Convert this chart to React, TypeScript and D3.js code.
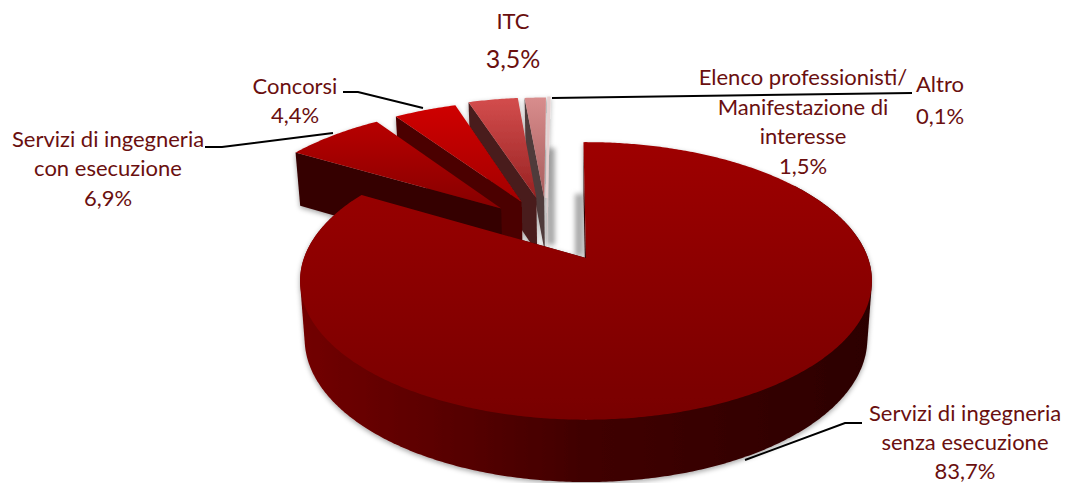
import React from "react";
import * as d3 from "d3";

const categories = [
  ["Servizi di ingegneria", "senza esecuzione"],
  ["Servizi di ingegneria", "con esecuzione"],
  ["Concorsi"],
  ["ITC"],
  ["Elenco professionisti/", "Manifestazione di", "interesse"],
  ["Altro"],
];
const percentLabels = ["83,7%", "6,9%", "4,4%", "3,5%", "1,5%", "0,1%"];
const values = [83.7, 6.9, 4.4, 3.5, 1.5, 0.1];
// Style / layout of each slice, same order as the values
const explodeU = [0, -0.32, -0.245, -0.19, -0.16, -0.15];
const explodeV = [0, 0.39, 0.445, 0.48, 0.48, 0.48];
const topColors = [
  ["#9e0000", "#780000"],
  ["#b80000", "#860000"],
  ["#cf0000", "#a30000"],
  ["#d34d4d", "#982222"],
  ["#d88d8d", "#a85c5c"],
  ["#e6d0d0", "#e6d0d0"],
];
const wallColors = ["#3a0000", "#350000", "#4c0000", "#4a1a1a", "#4f3a3a", "#d8c8c8"];

const CX = 586, CY = 258, R = 282, RY = 135, K = 0.165, D = 57;
const ROT = (-0.6 * Math.PI) / 180;

type P = [number, number];
function project(u: number, v: number, z: number): P {
  const w = 1 + K * v;
  const s = 1 - 0.016 * z;
  return [CX + (R * u * s) / w, CY - (RY * v) / w + (D * z) / Math.sqrt(w)];
}

const angle = d3.scaleLinear().domain([0, d3.sum(values)]).range([ROT, ROT + 2 * Math.PI]);
const cum = d3.cumsum(values);
const slices = values.map((v, i) => ({
  i,
  a0: angle(i === 0 ? 0 : cum[i - 1]),
  a1: angle(cum[i]),
  ou: explodeU[i],
  ov: explodeV[i],
}));

const pathOf = (pts: P[]) => d3.line()(pts) + "Z";

function arcPts(s: (typeof slices)[number], from: number, to: number, z: number): P[] {
  const n = Math.max(2, Math.ceil(Math.abs(to - from) / 0.01));
  return d3.range(n + 1).map((k) => {
    const a = from + ((to - from) * k) / n;
    return project(s.ou + Math.sin(a), s.ov + Math.cos(a), z);
  });
}

function Slice({ s }: { s: (typeof slices)[number] }) {
  const apexTop = project(s.ou, s.ov, 0);
  const apexBot = project(s.ou, s.ov, 1);
  const top: P[] = [apexTop, ...arcPts(s, s.a0, s.a1, 0)];
  const main = s.i === 0;
  const edge = (a: number, z: number) => project(s.ou + Math.sin(a), s.ov + Math.cos(a), z);
  const startFace: P[] = [apexTop, edge(s.a0, 0), edge(s.a0, 1), apexBot];
  const endFace: P[] = [apexTop, edge(s.a1, 0), edge(s.a1, 1), apexBot];
  const hullOf = (from: number, to: number) =>
    (d3.polygonHull([...arcPts(s, from, to, 0), ...arcPts(s, from, to, 1)]) ?? []) as P[];
  return (
    <g>
      {main ? (
        <>
          <path d={pathOf(endFace)} fill="#3a0000" />
          <path d={pathOf(startFace)} fill="#300000" />
          <path d={pathOf(hullOf(Math.PI * 0.3, Math.PI))} fill="url(#mainWall)" />
          <path d={pathOf(hullOf(Math.PI, Math.PI * 1.65))} fill="url(#mainWall)" />
        </>
      ) : (
        <path d={pathOf(startFace)} fill={wallColors[s.i]} />
      )}
      <path
        d={pathOf(top)}
        fill={`url(#top${s.i})`}
        stroke={s.i === 5 ? topColors[5][0] : "none"}
        strokeWidth={s.i === 5 ? 2 : 0}
      />
    </g>
  );
}

const labelFill = "#6a0f0f";
const font = "Lato, sans-serif";

function Label({ lines, x, ys, size }: { lines: string[]; x: number; ys: number[]; size: number }) {
  return (
    <>
      {lines.map((t, i) => (
        <text key={i} x={x} y={ys[i]} textAnchor="middle" fontFamily={font} fontSize={size} fill={labelFill}>
          {t}
        </text>
      ))}
    </>
  );
}

const leaders: P[][] = [
  [[862, 423], [845, 423], [745, 460]],
  [[205, 147], [222, 147], [333, 133]],
  [[343, 92], [358, 92], [423, 108]],
  [[552, 98], [912, 93]],
];
const backShadows: P[][] = [
  [[551, 148], [551, 245]],
  [[579, 194], [579, 256]],
];

export default function App() {
  const order = [5, 4, 3, 2, 1, 0];
  return (
    <svg width={1065} height={483} style={{ position: "absolute", left: 0, top: 0, background: "#fff" }}>
      <defs>
        {topColors.map((c, i) => (
          <linearGradient key={i} id={`top${i}`} x1="0" y1="0" x2="0" y2="1">
            <stop offset="0" stopColor={c[0]} />
            <stop offset="1" stopColor={c[1]} />
          </linearGradient>
        ))}
        <linearGradient id="mainWall" gradientUnits="userSpaceOnUse" x1="302" y1="0" x2="870" y2="0">
          <stop offset="0" stopColor="#720000" />
          <stop offset="0.5" stopColor="#400000" />
          <stop offset="1" stopColor="#2c0000" />
        </linearGradient>
        <filter id="shadow" x="-10%" y="-10%" width="120%" height="120%">
          <feDropShadow dx="0" dy="2" stdDeviation="2.5" floodColor="#000" floodOpacity="0.35" />
        </filter>
        <filter id="blur" x="-500%" y="-20%" width="1100%" height="140%">
          <feGaussianBlur stdDeviation="2.5" />
        </filter>
      </defs>
      {backShadows.map((pts, i) => (
        <rect
          key={i}
          x={pts[0][0] - 4}
          y={pts[0][1]}
          width={8}
          height={pts[1][1] - pts[0][1]}
          fill="#a8a8a8"
          filter="url(#blur)"
        />
      ))}
      <g filter="url(#shadow)">
        {order.map((i) => (
          <Slice key={i} s={slices[i]} />
        ))}
      </g>
      {leaders.map((pts, i) => (
        <path key={i} d={d3.line()(pts) ?? ""} fill="none" stroke="#000" strokeWidth={2} />
      ))}
      <Label lines={[...categories[0], percentLabels[0]]} x={965} ys={[421, 450, 479]} size={22} />
      <Label lines={[...categories[1], percentLabels[1]]} x={108} ys={[147, 176, 206]} size={22} />
      <Label lines={[...categories[2], percentLabels[2]]} x={295} ys={[94, 123]} size={22} />
      <Label lines={[...categories[3]]} x={513} ys={[29]} size={22} />
      <Label lines={[percentLabels[3]]} x={513} ys={[68]} size={25} />
      <Label lines={[...categories[4], percentLabels[4]]} x={803} ys={[85, 115, 144, 174]} size={22} />
      <Label lines={[...categories[5], percentLabels[5]]} x={940} ys={[92, 124]} size={22} />
    </svg>
  );
}
